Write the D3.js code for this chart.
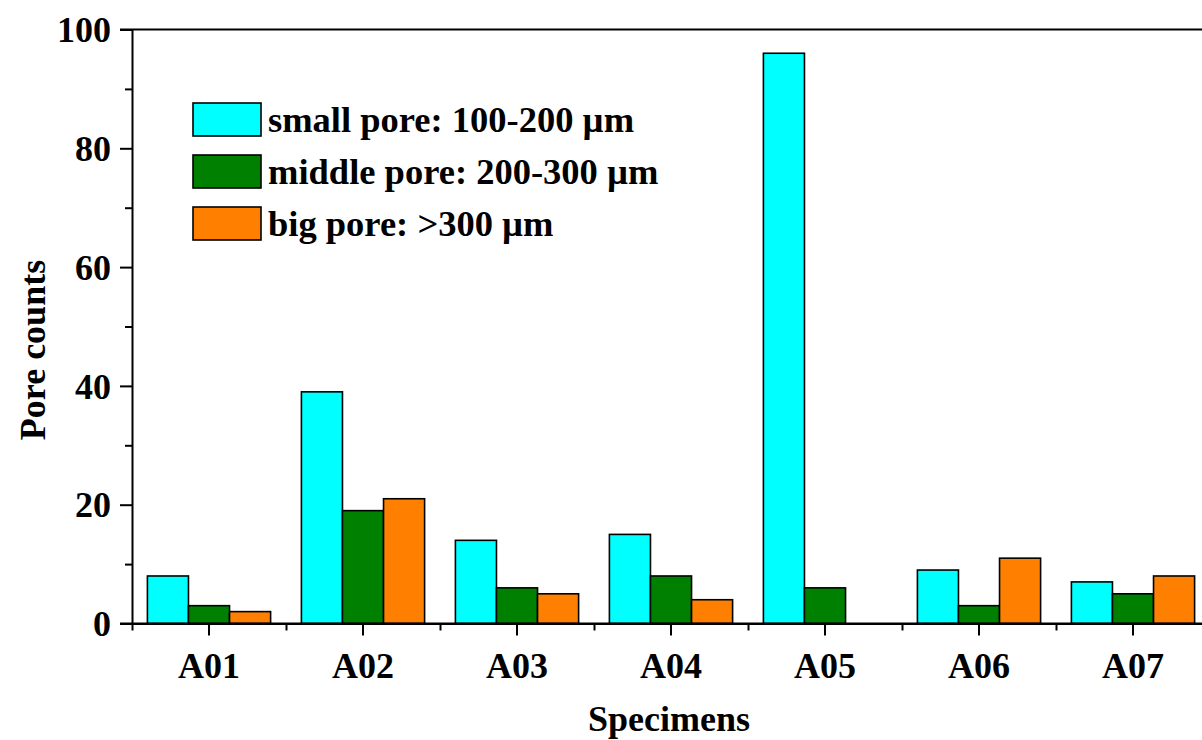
<!DOCTYPE html>
<html>
  <head>
    <meta charset="utf-8">
    <title>Pore counts</title>
    <script src="https://d3js.org/d3.v7.min.js"></script>
    <style>
      body { margin: 0; background: #fff; }
      svg { display: block; font-family: "Liberation Serif", "Times New Roman", serif; font-weight: bold; }
      .axis path, .axis line { stroke: #000; stroke-width: 2; }
      .axis text { font-size: 36px; fill: #000; font-family: "Liberation Serif", "Times New Roman", serif; font-weight: bold; }
    </style>
  </head>
  <body>
    <svg id="chart" width="1202" height="740"></svg>
    <script>
      // data
      const specimens = ["A01", "A02", "A03", "A04", "A05", "A06", "A07"];
      const seriesNames = ["small pore: 100-200 \u00b5m", "middle pore: 200-300 \u00b5m", "big pore: >300 \u00b5m"];
      const seriesColors = ["#00ffff", "#008000", "#ff8000"];
      const smallPores = [8, 39, 14, 15, 96, 9, 7];
      const middlePores = [3, 19, 6, 8, 6, 3, 5];
      const bigPores = [2, 21, 5, 4, 0, 11, 8];
      const yMajor = [0, 20, 40, 60, 80, 100];
      const yMinor = [10, 30, 50, 70, 90];

      const seriesValues = [smallPores, middlePores, bigPores];
      const rows = specimens.map((s, i) => ({
        name: s,
        values: seriesValues.map((v, k) => ({ key: k, value: v[i] }))
      }));

      const plotL = 132, plotR = 1210, plotT = 29.5, plotB = 623.5;
      const svg = d3.select("#chart");

      // scales
      const x = d3.scaleBand().domain(specimens).range([plotL, plotR]).padding(0);
      const bw = x.bandwidth();
      const xs = d3.scaleBand().domain([0, 1, 2]).range([bw * 0.1, bw * 0.9]).padding(0);
      const y = d3.scaleLinear().domain([0, 100]).range([plotB, plotT]);

      // bars
      const groups = svg.append("g")
        .selectAll("g")
          .data(rows)
        .enter().append("g")
          .attr("transform", d => "translate(" + x(d.name) + ",0)");
      groups.selectAll("rect")
          .data(d => d.values)
        .enter().append("rect")
          .attr("x", d => xs(d.key))
          .attr("y", d => y(d.value))
          .attr("width", xs.bandwidth())
          .attr("height", d => y(0) - y(d.value))
          .attr("fill", d => seriesColors[d.key])
          .attr("stroke", "#000")
          .attr("stroke-width", 1.6);

      // y axis, major + minor ticks
      svg.append("g")
          .attr("class", "axis")
          .attr("transform", "translate(" + plotL + ",0)")
          .call(d3.axisLeft(y).tickValues(yMajor).tickSize(12).tickPadding(9).tickSizeOuter(0))
          .call(g => g.selectAll("text").attr("dy", "0.34em"));
      svg.append("g")
          .attr("class", "axis")
          .attr("transform", "translate(" + plotL + ",0)")
          .call(d3.axisLeft(y).tickValues(yMinor).tickSize(7).tickFormat("").tickSizeOuter(0))
          .call(g => g.select(".domain").remove());

      // x axis: labels at centres, minor ticks at band edges
      svg.append("g")
          .attr("class", "axis")
          .attr("transform", "translate(0," + plotB + ")")
          .call(d3.axisBottom(x).tickSize(12).tickPadding(17).tickSizeOuter(0))
          .call(g => g.selectAll("text").attr("dy", "0.71em"));
      const edges = d3.scaleLinear().domain([0, specimens.length]).range([plotL, plotR]);
      svg.append("g")
          .attr("class", "axis")
          .attr("transform", "translate(0," + plotB + ")")
          .call(d3.axisBottom(edges).tickValues(d3.range(specimens.length + 1)).tickSize(7).tickFormat("").tickSizeOuter(0))
          .call(g => g.select(".domain").remove());

      // frame: extend base line to the zero tick, top and right lines
      svg.append("line").attr("x1", plotL - 12).attr("x2", plotR).attr("y1", plotB).attr("y2", plotB)
        .attr("stroke", "#000").attr("stroke-width", 2);
      svg.append("line").attr("x1", plotL - 12).attr("x2", plotR).attr("y1", plotT).attr("y2", plotT)
        .attr("stroke", "#000").attr("stroke-width", 2);
      svg.append("line").attr("x1", plotR).attr("x2", plotR).attr("y1", plotT).attr("y2", plotB)
        .attr("stroke", "#000").attr("stroke-width", 2);

      // axis titles
      svg.append("text")
          .attr("x", 669)
          .attr("y", 731)
          .attr("text-anchor", "middle")
          .attr("font-size", 36)
          .text("Specimens");
      svg.append("text")
          .attr("transform", "translate(45,350) rotate(-90)")
          .attr("text-anchor", "middle")
          .attr("font-size", 36)
          .text("Pore counts");

      // legend
      const legend = svg.append("g")
          .attr("transform", "translate(193,103)")
        .selectAll("g")
          .data(seriesNames)
        .enter().append("g")
          .attr("transform", (d, i) => "translate(0," + i * 52 + ")");
      legend.append("rect")
          .attr("width", 68)
          .attr("height", 33)
          .attr("fill", (d, i) => seriesColors[i])
          .attr("stroke", "#000")
          .attr("stroke-width", 1.6);
      legend.append("text")
          .attr("x", 75)
          .attr("y", 29)
          .attr("font-size", 36.5)
          .text(d => d);
    </script>
  </body>
</html>
